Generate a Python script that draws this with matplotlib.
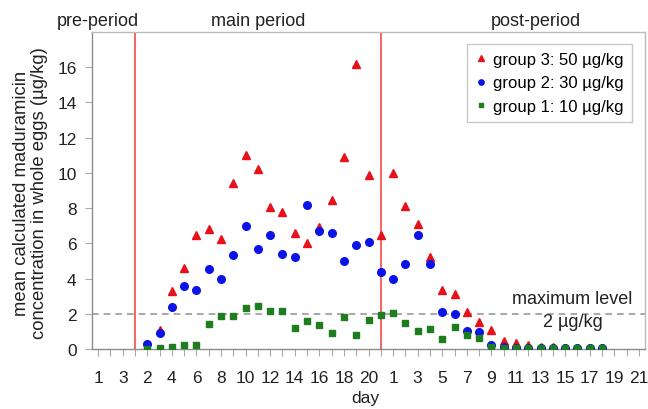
import numpy as np
import matplotlib
matplotlib.use("Agg")
import matplotlib.pyplot as plt
import matplotlib.transforms as mtransforms

plt.rcParams['font.family'] = ['Liberation Sans', 'DejaVu Sans']

# days of each period
pre_days = [1, 2, 3]
main_days = list(range(1, 22))
post_days = list(range(1, 22))

nan = np.nan
# group 3: 50 µg/kg
g3_pre = [nan, nan, nan]
g3_main = [nan, nan, 1.1, 3.3, 4.6, 6.45, 6.8, 6.25, 9.45, 11.0, 10.2, 8.05, 7.8, 6.6,
           6.0, 6.9, 8.45, 10.9, 16.2, 9.9, 6.45]
g3_post = [10.0, 8.1, 7.1, 5.2, 3.35, 3.1, 2.1, 1.55, 1.1, 0.45, 0.35, 0.25, 0.12, 0.1,
           0.08, 0.06, 0.05, 0.05, nan, nan, nan]
# group 2: 30 µg/kg
g2_pre = [nan, nan, nan]
g2_main = [nan, 0.3, 0.9, 2.4, 3.6, 3.35, 4.55, 4.0, 5.35, 7.0, 5.7, 6.5, 5.4, 5.25,
           8.15, 6.7, 6.6, 5.0, 5.9, 6.1, 4.35]
g2_post = [4.0, 4.8, 6.5, 4.8, 2.1, 2.0, 1.05, 0.95, 0.25, 0.1, 0.06, 0.05, 0.04, 0.04,
           0.03, 0.03, 0.03, 0.03, nan, nan, nan]
# group 1: 10 µg/kg
g1_pre = [nan, nan, nan]
g1_main = [nan, 0.02, 0.05, 0.12, 0.2, 0.2, 1.4, 1.85, 1.9, 2.3, 2.45, 2.15, 2.15, 1.2,
           1.6, 1.35, 0.9, 1.8, 0.8, 1.65, 1.95]
g1_post = [2.05, 1.5, 1.0, 1.15, 0.55, 1.25, 0.8, 0.6, 0.1, 0.06, 0.03, 0.03, 0.03, 0.03,
           0.03, 0.03, 0.03, 0.03, nan, nan, nan]

max_level = 2.0

# continuous positions over all periods
n_pre, n_main, n_post = len(pre_days), len(main_days), len(post_days)
x = np.arange(1, n_pre + n_main + n_post + 1)
day_labels = pre_days + main_days + post_days

def full(pre, main, post):
    return np.array(pre + main + post, dtype=float)

fig = plt.figure(figsize=(6.48, 4.10), dpi=100)
ax = fig.add_axes([92 / 648, 1 - 350 / 410, (645 - 92) / 648, (350 - 33) / 410])

gray = '#8c8c8c'
txt = '#222222'
ax.axvline(n_pre + 1, color='#f06a6a', lw=1.5, zorder=1)
ax.axvline(n_pre + n_main, color='#f06a6a', lw=1.5, zorder=1)
ax.axhline(max_level, color='#999999', lw=1.2, ls=(0, (4, 3)), zorder=1)

ax.plot(x, full(g3_pre, g3_main, g3_post), ls='none', marker='^', ms=5.5,
        color='#e8101a', label='group 3: 50 µg/kg', zorder=3)
ax.plot(x, full(g2_pre, g2_main, g2_post), ls='none', marker='o', ms=5.5,
        color='#0a14e6', label='group 2: 30 µg/kg', zorder=4)
ax.plot(x, full(g1_pre, g1_main, g1_post), ls='none', marker='s', ms=5,
        color='#1e7d1e', label='group 1: 10 µg/kg', zorder=5)

ax.set_xlim(0.5, x[-1] + 0.5)
ax.set_ylim(0, 18)
ax.set_yticks(np.arange(0, 17, 2))

# label odd pre days, even main days, odd post days
labels = []
for k, d in enumerate(day_labels):
    if k < n_pre:
        labels.append(str(d) if d % 2 == 1 else '')
    elif k < n_pre + n_main:
        labels.append(str(d) if d % 2 == 0 and d < 21 else '')
    else:
        labels.append(str(d) if d % 2 == 1 else '')
ax.set_xticks(x)
ax.set_xticklabels(labels)

for s in ax.spines.values():
    s.set_color(gray)
    s.set_linewidth(1.0)
ax.spines['top'].set_color('#bbbbbb')
ax.spines['right'].set_color('#bbbbbb')
ax.tick_params(axis='both', colors='#aaaaaa', labelcolor=txt, labelsize=12.5,
               length=5, direction='out')
ax.tick_params(axis='x', pad=10)
ax.tick_params(axis='y', pad=6)

ax.set_xlabel('day', fontsize=12.5, color=txt)
ax.xaxis.set_label_coords(0.494, -0.13)
ax.set_ylabel('mean calculated maduramicin\nconcentration in whole eggs (µg/kg)',
              fontsize=13.3, color=txt, linespacing=1.1)
ax.yaxis.set_label_coords(-0.079, 0.495)

trans = mtransforms.blended_transform_factory(ax.transData, ax.transAxes)
ax.text(1.0, 1.035, 'pre-period', transform=trans, ha='center', va='center',
        fontsize=13, color=txt)
ax.text(14.0, 1.035, 'main period', transform=trans, ha='center', va='center',
        fontsize=13, color=txt)
ax.text(36.6, 1.035, 'post-period', transform=trans, ha='center', va='center',
        fontsize=13, color=txt)

ax.text(39.6, 2.84, 'maximum level', ha='center', va='center', fontsize=13,
        color=txt)
ax.text(39.6, 1.55, '2 µg/kg', ha='center', va='center', fontsize=13,
        color=txt)

leg = ax.legend(loc='upper right', bbox_to_anchor=(0.977, 0.963), borderaxespad=0,
                fontsize=12, frameon=True, fancybox=False, markerscale=0.7,
                handlelength=0.6, handletextpad=0.45, labelspacing=0.5,
                borderpad=0.5)
leg.get_frame().set_edgecolor('#bbbbbb')
leg.get_frame().set_linewidth(1.0)

fig.savefig('out.png', dpi=100)
